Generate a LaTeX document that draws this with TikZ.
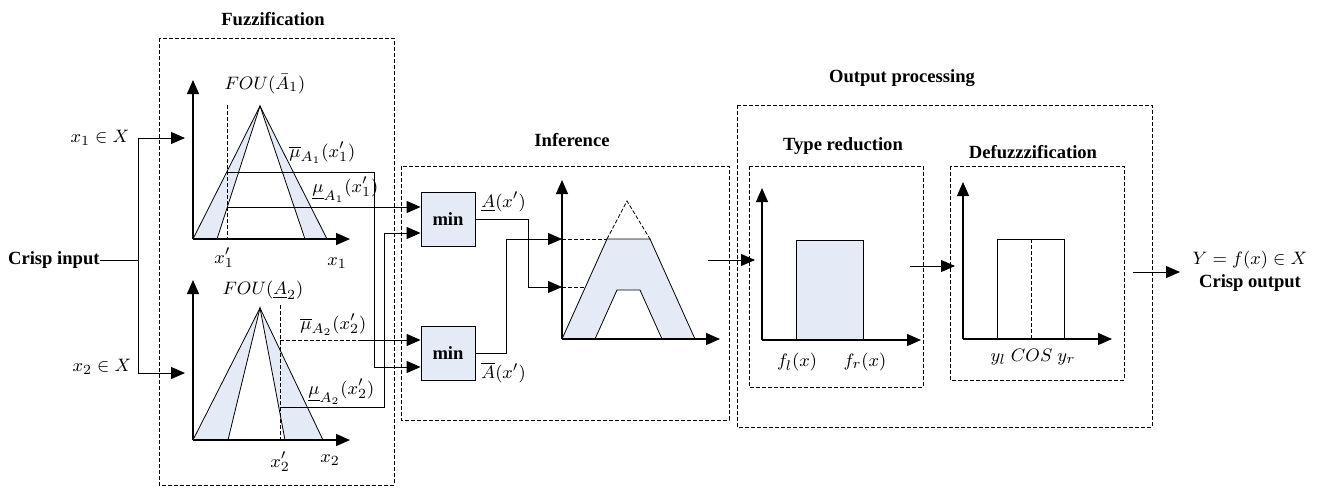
\documentclass[tikz,border=0pt]{standalone}
\usepackage{amsmath}
\usepackage{fontspec}
\setmainfont{Liberation Serif}
\usepackage{tikz}
\usetikzlibrary{arrows.meta,positioning}
\usepackage{xcolor}
\definecolor{fouBlue}{RGB}{228,235,246}

\begin{document}
\begin{tikzpicture}[x=0.5pt, y=-0.5pt,
    stagebox/.style={dash pattern=on 2pt off 1pt, line width=0.4pt},
    guide/.style={dash pattern=on 2pt off 1pt, line width=0.4pt},
    minbox/.style={draw, fill=fouBlue, minimum width=27pt, minimum height=27pt, inner sep=0pt, font=\fontsize{9.3}{11}\selectfont\bfseries},
    axis/.style={-{Triangle[length=7pt,width=6pt]}, line width=0.65pt},
    sig/.style={-{Triangle[length=7pt,width=6pt]}, line width=0.5pt},
    lbl/.style={font=\fontsize{9.3}{10}\selectfont, inner sep=0pt},
    title/.style={font=\fontsize{9.3}{11}\selectfont\bfseries, inner sep=0pt}]
    \useasboundingbox (0,0) rectangle (1322,488);

    % Stage frames
    \draw[stagebox] (159,38) rectangle (394,485);
    \draw[stagebox] (401,166) rectangle (729,420);
    \draw[stagebox] (737,105) rectangle (1152,427);
    \draw[stagebox] (749,166) rectangle (923,387);
    \draw[stagebox] (950,166) rectangle (1124,380);

    % Titles
    \node[title] (tFuzz) at (273,19) {Fuzzification};
    \node[title] (tInf) at (572,140) {Inference};
    \node[title] (tOut) at (902,78) {Output processing};
    \node[title] (tType) at (843,146) {Type reduction};
    \node[title] (tDefuzz) at (1033,152) {Defuzzzification};

    % Crisp input
    \node[title, anchor=east] (crispIn) at (100,260) {Crisp input};
    \node[lbl] (inX1) at (100,138) {$x_1\in X$};
    \node[lbl] (inX2) at (102,367) {$x_2\in X$};
    \coordinate (split) at (138,260);
    \coordinate (in1) at (185,138);
    \coordinate (in2) at (185,373);
    \draw[line width=0.5pt] (crispIn.east) -- (split);
    \draw[sig] (split) |- (in1);
    \draw[sig] (split) |- (in2);

    % Upper FOU
    \fill[fouBlue] (193,239) -- (260,106) -- (217,239) -- cycle;
    \fill[fouBlue] (305,239) -- (260,106) -- (327,239) -- cycle;
    \draw (193,239) -- (260,106) -- (327,239);
    \draw (217,239) -- (260,106) -- (305,239);
    \draw[guide] (227,105) -- (227,239);
    \draw[axis] (193,239) -- (193,80);
    \draw[axis] (193,239) -- (350,239);

    % Lower FOU
    \fill[fouBlue] (193,440) -- (260,308) -- (228,440) -- cycle;
    \fill[fouBlue] (285,440) -- (260,308) -- (323,440) -- cycle;
    \draw (193,440) -- (260,308) -- (323,440);
    \draw (228,440) -- (260,308) -- (285,440);
    \draw[guide] (280,305) -- (280,440);
    \draw[axis] (193,440) -- (193,280);
    \draw[axis] (193,440) -- (350,440);

    % Labels
    \node[lbl] (fou1) at (265,84) {$FOU(\bar{A}_1)$};
    \node[lbl, anchor=west] (muUp1) at (289,153) {$\overline{\mu}_{A_1}(x_1')$};
    \node[lbl, anchor=west] (muLo1) at (312,190) {$\underline{\mu}_{A_1}(x_1')$};
    \node[lbl] (xp1) at (224,258) {$x_1'$};
    \node[lbl] (xa1) at (337,263) {$x_1$};
    \node[lbl] (fou2) at (263,290) {$FOU(\underline{A}_2)$};
    \node[lbl, anchor=west] (muUp2) at (300,325) {$\overline{\mu}_{A_2}(x_2')$};
    \node[lbl, anchor=west] (muLo2) at (308,392) {$\underline{\mu}_{A_2}(x_2')$};
    \node[lbl] (xp2) at (280,462) {$x_2'$};
    \node[lbl] (xa2) at (330,460) {$x_2$};

    % Min blocks
    \node[minbox] (min1) at (448,219) {min};
    \node[minbox] (min2) at (448,353) {min};
    \node[lbl, anchor=west] (aLo) at (481,202) {$\underline{A}(x')$};
    \node[lbl, anchor=west] (aUp) at (481,373) {$\overline{A}(x')$};

    % Memberships into min
    \coordinate (up1) at (227,172);
    \coordinate (lo1) at (227,207);
    \coordinate (up2) at (280,340);
    \coordinate (lo2) at (280,407);
    \coordinate (bendA) at (374,367);
    \coordinate (bendB) at (384,233);
    \coordinate (solidB) at (360,340);
    \draw[sig] (lo1) -- (min1.west |- lo1);
    \draw[sig] (up1) -| (bendA) -- (min2.west |- bendA);
    \draw[sig] (lo2) -| (bendB) -- (min1.west |- bendB);
    \draw[guide] (up2) -- (solidB);
    \draw[sig] (solidB) -- (min2.west |- up2);

    % Inference output
    \coordinate (inUp) at (562,239);
    \coordinate (inLo) at (562,287);
    \coordinate (bendC) at (528,287);
    \coordinate (bendD) at (506,239);
    \draw[sig] (min1.east) -| (bendC) -- (inLo);
    \draw[sig] (min2.east) -| (bendD) -- (inUp);
    \fill[fouBlue] (562,339) -- (607,239) -- (650,239) -- (695,339) -- cycle;
    \fill[white] (595,339) -- (617,290) -- (640,290) -- (662,339) -- cycle;
    \draw (562,339) -- (607,239) -- (650,239) -- (695,339);
    \draw (595,339) -- (617,290) -- (640,290) -- (662,339);
    \draw[guide] (607,239) -- (627,201) -- (650,239);
    \draw[guide] (inUp) -- (607,239);
    \draw[guide] (inLo) -- (585,287);
    \draw[axis] (562,339) -- (562,180);
    \draw[axis] (562,339) -- (720,339);

    % Type reduction
    \coordinate (infOut) at (708,260);
    \coordinate (typeIn) at (755,260);
    \draw[sig] (infOut) -- (typeIn);
    \filldraw[fill=fouBlue] (796,240) rectangle (863,340);
    \draw[axis] (762,340) -- (762,188);
    \draw[axis] (762,340) -- (921,340);
    \node[lbl] (fl) at (797,362) {$f_l(x)$};
    \node[lbl] (fr) at (865,362) {$f_r(x)$};

    % Defuzzification
    \coordinate (typeOut) at (910,266);
    \coordinate (defIn) at (955,266);
    \draw[sig] (typeOut) -- (defIn);
    \draw (997,239) rectangle (1064,339);
    \draw[guide] (1031,239) -- (1031,339);
    \draw[axis] (963,339) -- (963,182);
    \draw[axis] (963,339) -- (1112,339);
    \node[lbl] (cos) at (1033,357) {$y_l\;COS\;y_r$};

    % Crisp output
    \coordinate (defOut) at (1133,272);
    \coordinate (outTip) at (1180,272);
    \draw[sig] (defOut) -- (outTip);
    \node[lbl] (yOut) at (1250,260) {$Y=f(x)\in X$};
    \node[title] (crispOut) at (1250,283) {Crisp output};
\end{tikzpicture}
\end{document}
